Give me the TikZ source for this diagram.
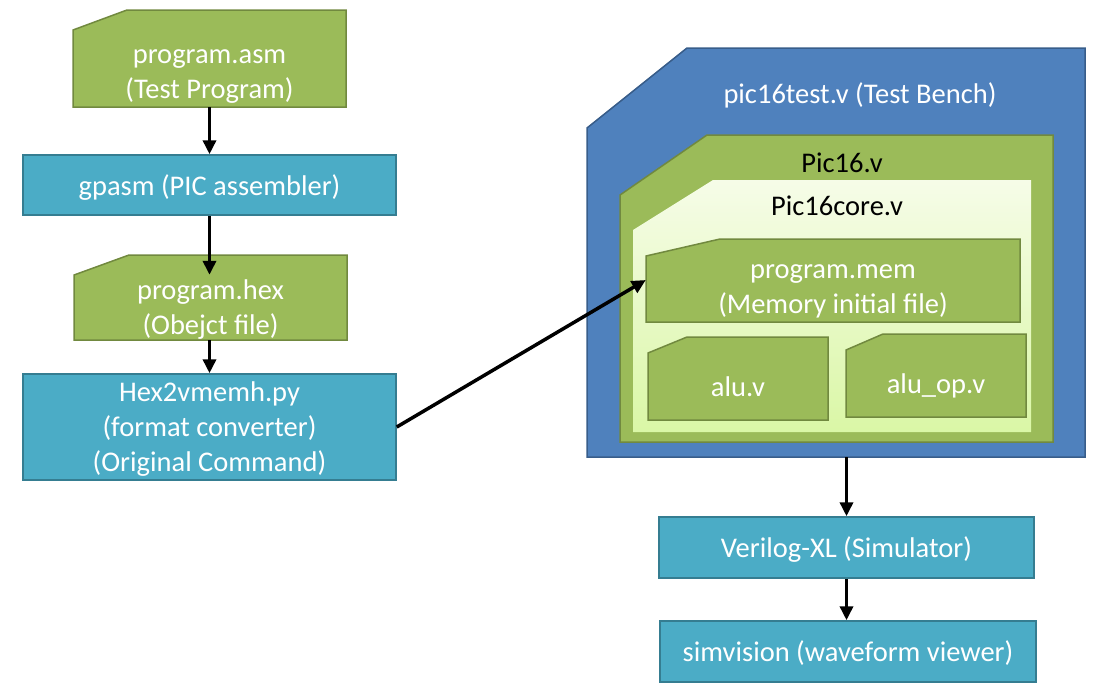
\documentclass[tikz,border=0pt]{standalone}
\usepackage{fontspec}
\setmainfont{Carlito}
\usetikzlibrary{arrows.meta}
\definecolor{grn}{HTML}{9BBB59}
\definecolor{grnb}{HTML}{71893F}
\definecolor{blu}{HTML}{4F81BD}
\definecolor{blub}{HTML}{385D8A}
\definecolor{aqu}{HTML}{4BACC6}
\definecolor{aqub}{HTML}{357D91}
\definecolor{coretop}{HTML}{F6FCE8}
\definecolor{corebot}{HTML}{DAF7A6}
\tikzset{
  txt/.style={text=white, font=\fontsize{28.5}{35}\selectfont, align=center, inner sep=0pt, text depth=0pt},
  greenbox/.style={fill=grn, draw=grnb, line width=1.5pt},
  bluebox/.style={fill=blu, draw=blub, line width=1.5pt},
  corebox/.style={top color=coretop, bottom color=corebot, draw=none},
  aquabox/.style={txt, fill=aqu, draw=aqub, line width=1.5pt},
  arr/.style={line width=3.5pt, -{Triangle[length=14pt,width=13pt]}},
  blacktxt/.style={text=black, font=\fontsize{28.5}{35}\selectfont, inner sep=0pt}
}
\def\textdrop{0}
% #1 name, #2 style, #3 left, #4 top, #5 right, #6 bottom, #7 dx, #8 dy, #9 text
\newcommand\snipbox[9]{%
  \path[#2] (#3,#4+#8) -- (#3+#7,#4) -- (#5,#4) -- (#5,#6) -- (#3,#6) -- cycle;
  \node[txt, minimum width=#5pt-#3pt, minimum height=#6pt-#4pt-#8pt-2*\textdrop pt]
    (#1) at ({(#3+#5)/2},{(#4+#8+#6)/2+\textdrop}) {#9};
}
\begin{document}
\begin{tikzpicture}[x=1pt,y=-1pt]
\useasboundingbox (0,0) rectangle (1102,688);
% left column
\def\textdrop{5.5}
\snipbox{asm}{greenbox}{73}{10}{346}{107}{54}{20}{program.asm\\(Test Program)}
\def\textdrop{0}
\node[aquabox, minimum width=373pt, minimum height=60pt] (gpasm) at (209.5,185) {gpasm (PIC assembler)};
\snipbox{hex}{greenbox}{74}{255}{347}{340}{55}{20}{program.hex\\(Obejct file)}
\node[aquabox, minimum width=373pt, minimum height=106pt] (conv) at (209.5,427)
  {Hex2vmemh.py\\(format converter)\\(Original Command)};
% right: test bench
\snipbox{tb}{bluebox}{587}{48}{1085}{457}{100}{80}{}
\node[txt] (tbtitle) at (860,93) {pic16test.v (Test Bench)};
\snipbox{pic}{greenbox}{620}{135}{1053}{442}{87}{60}{}
\node[blacktxt] (pictitle) at (842,163) {Pic16.v};
\snipbox{core}{corebox}{633}{180}{1031}{432}{80}{50}{}
\node[blacktxt] (coretitle) at (837,206) {Pic16core.v};
\snipbox{mem}{greenbox}{646}{239}{1020}{322}{74}{17}{program.mem\\(Memory initial file)}
\snipbox{alu}{greenbox}{648}{337}{828}{420}{39}{16}{alu.v}
\snipbox{aluop}{greenbox}{846}{334}{1026}{417}{37}{16}{alu\_op.v}
\node[aquabox, minimum width=375pt, minimum height=61pt] (sim) at (846.5,547.5) {Verilog-XL (Simulator)};
\node[aquabox, minimum width=376pt, minimum height=61pt] (wave) at (848,651.5) {simvision (waveform viewer)};
% connectors
\draw[arr] (asm.south -| gpasm.north) -- (gpasm.north);
\draw[arr] (gpasm.south) -- (gpasm.south |- hex.north);
\draw[arr] (hex.south -| gpasm.south) -- (gpasm.south |- conv.north);
\draw[arr] (conv.east) -- ([yshift=9pt]mem.west);
\draw[arr] (tb.south -| sim.north) -- (sim.north);
\draw[arr] (sim.south) -- (sim.south |- wave.north);
\end{tikzpicture}
\end{document}
